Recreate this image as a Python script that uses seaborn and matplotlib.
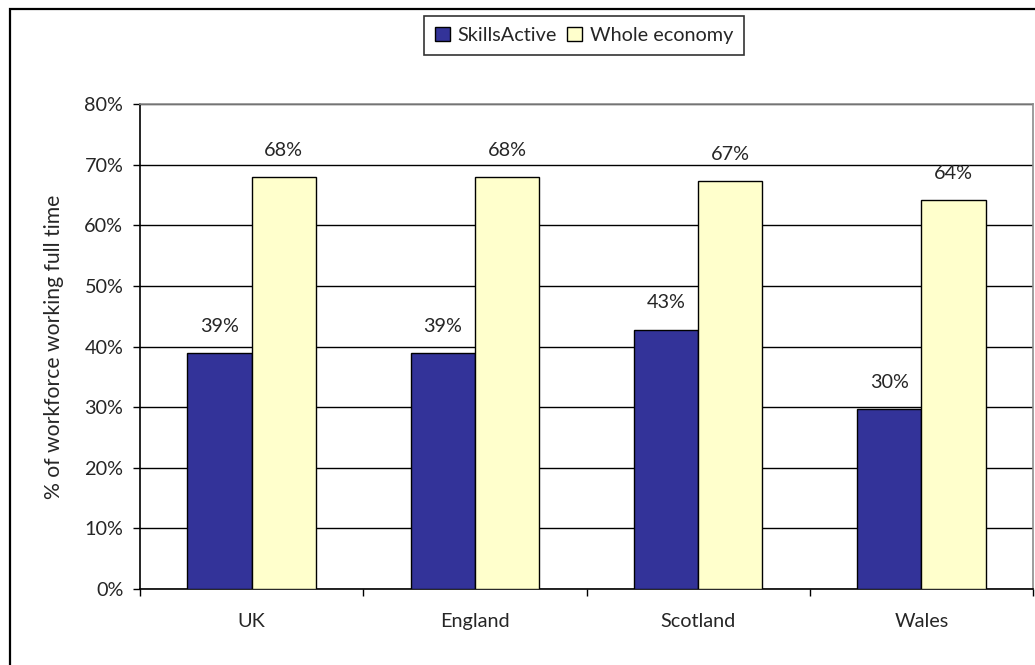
import matplotlib
matplotlib.use("Agg")
import matplotlib.pyplot as plt
from matplotlib.patches import Rectangle, Patch
from matplotlib.ticker import PercentFormatter, FixedLocator
import seaborn as sns
import pandas as pd

# Share of workforce working full time, by nation
regions = ["UK", "England", "Scotland", "Wales"]
skills_active = [0.389, 0.389, 0.428, 0.297]
whole_economy = [0.679, 0.679, 0.673, 0.642]
series_names = ["SkillsActive", "Whole economy"]
y_ticks = [0.0, 0.1, 0.2, 0.3, 0.4, 0.5, 0.6, 0.7, 0.8]

df = pd.DataFrame({
    "region": regions * 2,
    "share": skills_active + whole_economy,
    "series": [series_names[0]] * len(regions) + [series_names[1]] * len(regions),
})

sns.set_style("white")
plt.rcParams["font.family"] = ["Lato", "DejaVu Sans"]
FS = 14.3

navy = "#333399"
cream = "#FFFFCC"

fig = plt.figure(figsize=(10.35, 6.65), dpi=100)
ax = fig.add_axes([140 / 1035, 1 - 589 / 665, (1033 - 140) / 1035, (589 - 104) / 665])

sns.barplot(
    data=df, x="region", y="share", hue="series", order=regions,
    hue_order=series_names, palette=[navy, cream], saturation=1,
    edgecolor="black", linewidth=1.0, width=0.575, gap=0, ax=ax,
    legend=False, zorder=3,
)

ax.set_xlim(-0.5, len(regions) - 0.5)
ax.set_ylim(0, 0.8)
ax.yaxis.set_major_locator(FixedLocator(y_ticks))
ax.yaxis.set_major_formatter(PercentFormatter(1.0, decimals=0))
ax.grid(axis="y", color="black", linewidth=1.0, zorder=0)
ax.set_axisbelow(True)

# category boundaries as ticks, names centred between them
ax.xaxis.set_major_locator(FixedLocator([i - 0.5 for i in range(len(regions) + 1)]))
ax.xaxis.set_minor_locator(FixedLocator(list(range(len(regions)))))
ax.set_xticklabels([], minor=False)
ax.set_xticklabels(regions, minor=True)
ax.tick_params(axis="x", which="major", direction="out", length=5, width=1, color="black", bottom=True)
ax.tick_params(axis="x", which="minor", length=0, pad=17, labelsize=FS)
ax.tick_params(axis="y", direction="out", length=5, width=1, color="black", left=True, pad=7, labelsize=FS)

for side in ("left", "bottom"):
    ax.spines[side].set_color("black")
    ax.spines[side].set_linewidth(1.2)
for side in ("top", "right"):
    ax.spines[side].set_visible(True)
    ax.spines[side].set_color("#8c8c8c")
    ax.spines[side].set_linewidth(1.2)

ax.set_xlabel("")
ax.set_ylabel("% of workforce working full time", fontsize=15.2)
ax.yaxis.label.set_va("center")
ax.yaxis.set_label_coords((54 - 140) / 893, 0.5)

for cont in ax.containers:
    vals = [b.get_height() for b in cont]
    ax.bar_label(cont, labels=[f"{v:.0%}" for v in vals], padding=13, fontsize=FS, zorder=4)

handles = [Patch(facecolor=navy, edgecolor="black", linewidth=1.0),
           Patch(facecolor=cream, edgecolor="black", linewidth=1.0)]
leg = fig.legend(
    handles, series_names, loc="center", bbox_to_anchor=(584 / 1035, 1 - 35.5 / 665),
    ncol=2, fontsize=FS, frameon=True, fancybox=False, edgecolor="black",
    handlelength=0.75, handleheight=0.75, handletextpad=0.4, columnspacing=0.5,
    borderpad=0.55, borderaxespad=0,
)
leg.get_frame().set_linewidth(1.2)

# chart-area border
fig.patches.append(Rectangle((10 / 1035, -0.1), 1.2, 1.1 - 9 / 665, transform=fig.transFigure,
                             fill=False, edgecolor="black", linewidth=1.6))

fig.savefig("out.png", dpi=100)
